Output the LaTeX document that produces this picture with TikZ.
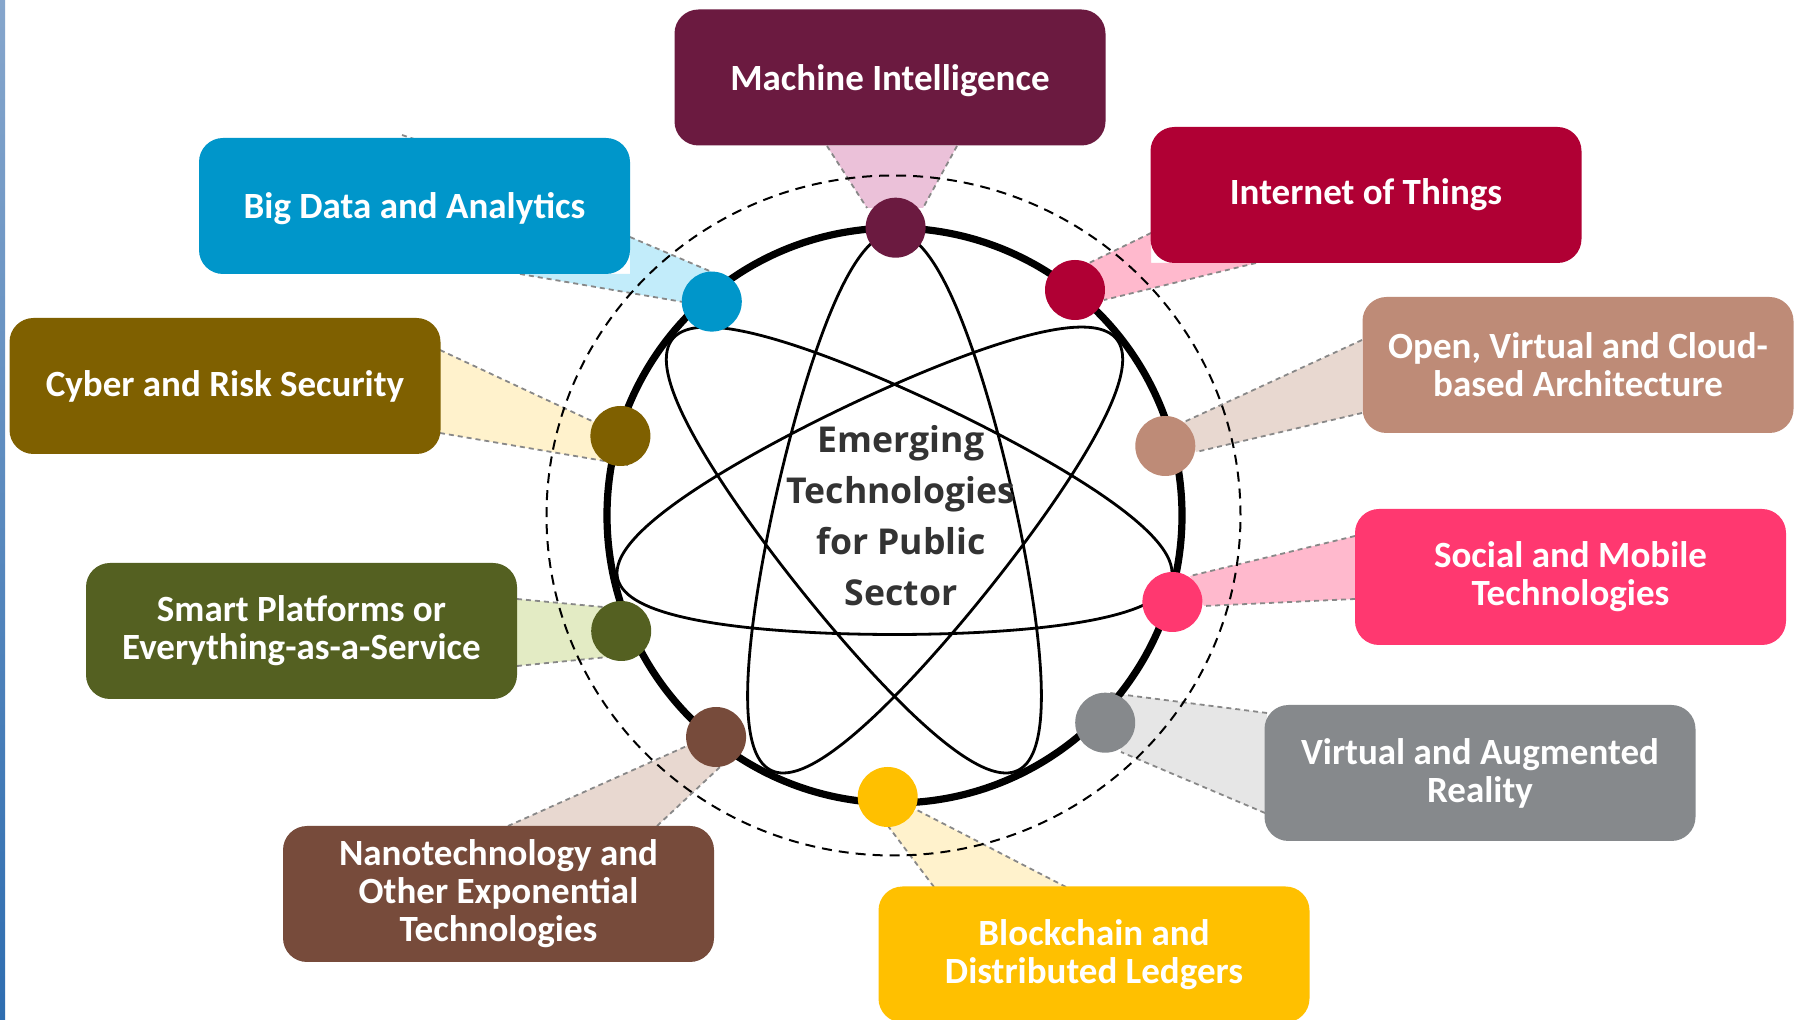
\documentclass[tikz,border=0pt]{standalone}
\usepackage{fontspec}
\setmainfont{Carlito}
\newfontfamily\centerfont{Open Sans}
\usetikzlibrary{calc}
\definecolor{cMI}{HTML}{6B1A40}
\definecolor{cMIl}{HTML}{EBC1D9}
\definecolor{cBD}{HTML}{0096CA}
\definecolor{cBDl}{HTML}{C2ECFA}
\definecolor{cIoT}{HTML}{B00034}
\definecolor{cIoTl}{HTML}{FFB9CD}
\definecolor{cOpen}{HTML}{BE8B77}
\definecolor{cOpenl}{HTML}{E8D8D0}
\definecolor{cCyber}{HTML}{7F6000}
\definecolor{cCyberl}{HTML}{FFF2CC}
\definecolor{cSoc}{HTML}{FF3870}
\definecolor{cSocl}{HTML}{FFB9CD}
\definecolor{cSmart}{HTML}{546021}
\definecolor{cSmartl}{HTML}{E3EBC4}
\definecolor{cVAR}{HTML}{86898C}
\definecolor{cVARl}{HTML}{E6E6E6}
\definecolor{cNano}{HTML}{774B3B}
\definecolor{cNanol}{HTML}{E8D8D0}
\definecolor{cBlock}{HTML}{FFC000}
\definecolor{cBlockl}{HTML}{FFF2CC}
\definecolor{cCenter}{HTML}{333333}
\definecolor{cWedge}{HTML}{888888}
\definecolor{cBarTop}{HTML}{86A6CC}
\definecolor{cBarBot}{HTML}{2E6DB0}
\begin{document}
\begin{tikzpicture}[x=0.5pt,y=-0.5pt,
 techbox/.style={rounded corners=12pt, minimum width=215.5pt, minimum height=68pt, inner sep=0pt, text=white, font=\bfseries\fontsize{18.5}{19}\selectfont, align=center},
 techdot/.style={circle, minimum size=30pt, inner sep=0pt},
 wedgeline/.style={draw=cWedge, line width=0.9pt, dash pattern=on 2.5pt off 2pt},
]
\useasboundingbox (0,0) rectangle (1800,1020);
\fill[white] (0,0) rectangle (1800,1020);
\shade[top color=cBarTop, bottom color=cBarBot] (0,0) rectangle (5,1020);

% wedges
\fill[cMIl] (827,146) -- (957,146) -- (923,208) -- (867,208) -- cycle;
\draw[wedgeline] (827,146) -- (867,208) (957,146) -- (923,208);
\fill[cBDl] (630,237) -- (712,272) -- (683,302) -- (520,274) -- (630,274) -- cycle;
\draw[wedgeline] (630,237) -- (712,272) (520,274) -- (683,302) (402,135) -- (414,139);
\fill[cIoTl] (1151,233) -- (1089,263) -- (1104,300) -- (1256,263) -- (1151,263) -- cycle;
\draw[wedgeline] (1151,233) -- (1089,263) (1256,263) -- (1104,300);
\fill[cOpenl] (1362,340) -- (1184,422) -- (1196,452) -- (1362,413) -- cycle;
\draw[wedgeline] (1362,340) -- (1184,422) (1362,413) -- (1196,452);
\fill[cCyberl] (440,350) -- (594,422) -- (628,465) -- (440,433) -- cycle;
\draw[wedgeline] (440,350) -- (594,422) (440,433) -- (628,465);
\fill[cSocl] (1355,536) -- (1190,576) -- (1204,606) -- (1355,599) -- cycle;
\draw[wedgeline] (1355,536) -- (1190,576) (1355,599) -- (1204,606);
\fill[cSmartl] (517,599) -- (603,607) -- (608,657) -- (517,666) -- cycle;
\draw[wedgeline] (517,599) -- (603,607) (517,666) -- (608,657);
\fill[cVARl] (1267,713) -- (1110,693) -- (1121,752) -- (1265,813) -- cycle;
\draw[wedgeline] (1267,713) -- (1110,693) (1265,813) -- (1121,752);
\fill[cNanol] (508,826) -- (689,745) -- (720,767) -- (657,826) -- cycle;
\draw[wedgeline] (508,826) -- (689,745) (657,826) -- (720,767);
\fill[cBlockl] (934,887) -- (888,826) -- (917,810) -- (1066,887) -- cycle;
\draw[wedgeline] (934,887) -- (888,826) (1066,887) -- (917,810);

% circles
\draw[line width=1pt, dash pattern=on 5pt off 3.5pt] (893.5,515.5) ellipse [x radius=173.5pt, y radius=170pt];
\draw[line width=3.6pt] (894.5,515.5) circle [radius=143.75pt];
\draw[line width=1.4pt, line join=round] plot[domain=0:360, samples=500, smooth, variable=\t]
  ({894.5-202*sin(3*\t)+82*sin(4*\t)}, {515.5-201*cos(3*\t)-82*cos(4*\t)});

% center text
\node[font=\centerfont\bfseries\fontsize{17.8}{25.5}\selectfont, text=cCenter, align=center] (center) at (901,516) {Emerging\\Technologies\\for Public\\Sector};

% dots
\node[techdot, fill=cMI] (midot) at (895.6,227.7) {};
\node[techdot, fill=cBD] (bddot) at (711.8,301.6) {};
\node[techdot, fill=cIoT] (iotdot) at (1075,290) {};
\node[techdot, fill=cCyber] (cyberdot) at (620.4,436) {};
\node[techdot, fill=cOpen] (opendot) at (1165.3,446) {};
\node[techdot, fill=cSmart] (smartdot) at (621.2,631) {};
\node[techdot, fill=cSoc] (socdot) at (1172.4,602) {};
\node[techdot, fill=cVAR] (vardot) at (1105.2,722.7) {};
\node[techdot, fill=cNano] (nanodot) at (716.1,737) {};
\node[techdot, fill=cBlock] (blockdot) at (887.7,797) {};

% boxes
\node[techbox, fill=cMI] (mi) at (890,77.5) {};
\node[font=\bfseries\fontsize{18.5}{19}\selectfont, text=white] (milabel) at (890,81) {Machine Intelligence};
\node[techbox, fill=cBD] (bd) at (414.5,206) {};
\node[font=\bfseries\fontsize{18.5}{19}\selectfont, text=white] (bdlabel) at (414.5,208.5) {Big Data and Analytics};
\node[techbox, fill=cIoT] (iot) at (1366,195) {Internet of Things};
\node[techbox, fill=cOpen] (open) at (1578,365) {Open, Virtual and Cloud-\\based Architecture};
\node[techbox, fill=cCyber] (cyber) at (225,386) {Cyber and Risk Security};
\node[techbox, fill=cSoc] (soc) at (1570.5,577) {Social and Mobile\\Technologies};
\node[techbox, fill=cSmart] (smart) at (301.5,631) {Smart Platforms or\\Everything-as-a-Service};
\node[techbox, fill=cVAR] (var) at (1480,773) {Virtual and Augmented\\Reality};
\node[techbox, fill=cNano] (nano) at (498.5,894) {Nanotechnology and\\Other Exponential\\Technologies};
\node[techbox, fill=cBlock] (block) at (1094,954.5) {Blockchain and\\Distributed Ledgers};
\end{tikzpicture}
\end{document}
